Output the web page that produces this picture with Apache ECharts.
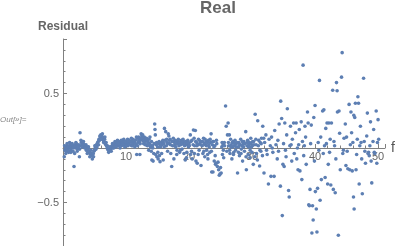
<!DOCTYPE html>
<html><head><meta charset="utf-8">
<script src="https://cdn.jsdelivr.net/npm/echarts@6/dist/echarts.min.js"></script>
<style>html,body{margin:0;padding:0;background:#fff}#c{width:399px;height:246px}</style>
</head><body><div id="c"></div>
<script>
// frequency values (f), main set
var F = [
0.2,0.3,0.4,0.5,0.6,0.7,0.8,0.9,1.0,1.1,1.2,1.3,1.4,1.5,1.6,1.75,1.8,1.9,2.0,2.1,2.2,2.3,2.5,2.6,2.7,2.8,2.9,3.0,3.1,3.2,3.3,3.4,3.5,3.6,3.7,3.8,3.9,4.0,4.1,4.2,4.3,4.4,4.5,4.6,4.7,4.8,4.9,5.0,5.1,5.2,5.3,5.4,5.5,5.6,5.7,5.8,5.9,6.0,6.1,6.2,6.3,6.4,6.5,6.6,6.7,6.8,6.9,7.0,7.1,7.2,7.3,7.4,7.5,7.6,7.7,7.8,7.9,8.0,8.1,8.2,8.3,8.4,8.5,8.6,8.7,8.8,8.9,9.0,9.1,9.2,9.3,9.4,9.5,9.6,9.7,9.8,9.9,10.0,10.1,10.2,10.3,10.4,10.5,
10.7,10.8,10.9,11.0,11.1,11.2,11.3,11.4,11.5,11.6,11.7,11.8,11.9,12.0,12.1,12.2,12.3,12.4,12.5,12.6,12.7,12.8,12.9,13.0,13.1,13.2,13.3,13.4,13.5,13.6,13.7,13.8,13.9,14.0,14.1,14.2,14.3,14.4,14.55,14.6,14.65,14.7,14.8,14.9,15.0,15.1,15.2,15.3,15.4,15.5,15.6,15.7,15.8,15.9,16.0,16.1,16.2,16.3,16.4,16.5,16.6,16.7,16.8,16.9,17.0,17.1,17.25,17.3,17.4,17.5,17.6,17.7,17.8,17.9,18.0,18.1,18.2,18.3,18.4,18.5,18.6,18.7,18.8,18.9,19.0,19.1,19.2,19.3,19.4,19.5,19.6,19.7,19.8,19.9,20.0,20.2,20.3,20.4,20.5,20.7,20.8,20.9,21.0,21.1,21.2,21.3,21.4,21.5,21.6,21.7,21.9,22.0,
22.1,22.2,22.3,22.4,22.5,22.6,22.7,22.8,22.9,23.0,23.1,23.2,23.3,23.4,23.5,23.6,23.7,23.8,23.9,24.0,24.1,24.2,24.3,24.4,24.5,24.6,24.7,24.8,24.9,25.0,25.1,25.2,25.3,25.4,25.5,25.6,25.8,25.9,26.0,26.1,26.2,26.3,26.4,26.5,26.6,26.7,26.8,26.9,27.0,27.1,27.2,27.3,27.4,27.5,27.7,27.8,27.9,28.0,28.1,28.2,28.3,28.4,28.5,28.6,28.7,28.8,29.0,29.1,29.2,29.3,29.4,29.5,29.6,29.7,29.8,29.9,30.0,30.1,30.2,30.3,30.5,30.6,30.7,30.9,31.0,31.2,31.3,31.4,31.5,31.7,31.9,
32.0,32.2,32.3,32.4,32.6,32.7,32.9,33.0,33.1,33.2,33.3,33.5,33.6,33.8,34.0,34.1,34.2,34.3,34.5,34.55,34.7,34.8,34.9,35.0,35.1,35.2,35.3,35.4,35.5,35.6,35.8,35.9,36.0,36.1,36.2,36.3,36.4,36.6,36.7,36.9,37.0,37.1,37.2,37.3,37.4,37.5,37.6,37.8,37.9,38.0,38.1,38.2,38.3,38.4,38.5,38.6,38.8,38.9,39.0,39.1,39.2,39.3,39.4,39.5,39.6,39.7,39.8,39.9,40.0,40.05,40.2,40.3,40.4,40.5,40.6,40.7,40.8,40.9,41.0,41.2,41.3,41.4,41.5,41.6,41.7,41.8,41.9,42.0,42.1,42.2,42.3,42.4,42.5,42.6,42.8,42.9,43.0,43.1,43.2,43.3,43.4,43.5,43.55,43.7,43.8,43.9,44.0,44.2,44.3,44.4,44.5,44.6,44.8,44.9,45.0,45.1,45.2,45.4,45.5,45.6,45.7,45.8,45.9,46.0,46.1,46.15,46.2,46.3,46.4,46.5,46.6,46.7,46.8,46.9,47.0,47.1,47.2,47.3,47.4,47.5,47.7,47.8,47.9,48.0,48.2,48.3,48.4,48.5,48.6,48.7,48.8,48.9,49.0,49.2,49.3,49.4,49.5,49.7,49.8,49.9,50.0,50.1
];
// residual values, main set
var R = [
-0.08,-0.02,0.0,-0.03,0.02,-0.01,0.01,-0.04,0.02,0.0,0.03,-0.02,0.01,0.02,-0.03,-0.17,0.02,0.03,0.0,0.04,0.02,-0.01,0.03,-0.08,0.14,0.02,0.05,0.06,0.03,0.04,0.02,0.03,0.01,0.0,-0.02,0.01,-0.03,-0.01,-0.04,-0.03,-0.05,-0.06,-0.05,-0.07,-0.06,-0.05,-0.03,-0.02,0.0,0.02,0.03,0.01,0.05,0.06,0.08,0.07,0.1,0.12,0.11,0.09,0.1,0.07,0.06,0.08,0.04,0.03,0.02,0.0,-0.01,-0.02,-0.01,-0.02,0.0,-0.01,0.01,0.02,0.0,0.03,0.01,0.04,0.02,0.05,0.03,0.04,0.06,0.02,0.05,0.03,0.06,0.04,0.02,0.05,0.07,0.03,0.05,0.01,0.04,0.06,0.03,0.05,0.02,0.04,0.07,
0.03,0.06,0.02,0.05,0.08,0.04,0.06,0.01,0.07,0.03,-0.06,0.09,0.05,0.1,0.06,-0.06,0.08,0.13,0.11,0.07,0.09,0.04,0.1,0.06,0.08,0.03,0.07,0.02,0.05,-0.02,0.04,0.1,0.01,-0.03,-0.11,0.02,-0.12,-0.05,0.22,0.17,0.12,-0.06,0.03,-0.08,0.01,-0.1,0.04,-0.07,-0.125,0.02,0.05,0.03,0.06,-0.11,0.04,0.18,0.07,0.15,0.02,0.05,-0.03,0.13,0.11,0.04,0.08,-0.05,-0.17,0.06,0.02,0.09,-0.1,0.05,0.07,0.01,0.06,-0.02,0.04,0.08,0.02,-0.04,0.05,0.03,0.07,-0.01,0.04,0.06,-0.05,0.02,-0.11,0.05,-0.09,0.03,0.07,0.01,0.04,0.12,0.06,-0.03,-0.1,0.165,0.09,0.02,0.16,-0.12,0.05,-0.14,0.03,0.08,-0.02,0.04,-0.16,0.06,
0.02,-0.05,0.09,0.04,-0.08,0.03,0.06,-0.02,0.05,-0.1,0.07,0.01,-0.04,0.05,0.13,-0.22,0.03,-0.22,0.06,-0.12,0.02,-0.15,-0.14,0.04,-0.17,-0.13,-0.2,-0.25,-0.24,-0.18,-0.23,0.01,-0.06,0.03,-0.09,0.05,0.385,0.2,-0.03,0.12,0.23,0.02,0.12,-0.05,0.08,0.03,-0.1,0.01,0.06,-0.04,0.02,0.07,-0.02,0.04,-0.23,0.01,0.05,-0.07,0.03,0.08,-0.01,0.02,-0.12,0.04,0.06,-0.03,0.15,-0.2,0.02,0.07,-0.06,0.03,0.05,-0.02,0.09,0.01,-0.04,0.06,-0.15,0.03,0.31,0.08,-0.05,0.25,0.02,-0.165,0.05,-0.03,0.09,0.2,-0.23,
0.05,0.12,-0.02,-0.06,-0.33,0.08,0.02,-0.26,0.1,0.0,-0.04,-0.26,0.16,0.03,-0.1,0.07,-0.03,0.22,-0.35,0.43,0.27,-0.62,-0.15,0.04,-0.17,0.23,-0.02,-0.08,0.12,0.36,-0.39,-0.45,0.02,0.2,0.03,-0.12,0.08,0.23,-0.05,0.14,0.23,-0.1,0.0,-0.2,0.03,0.17,-0.21,0.24,-0.29,0.06,0.76,-0.07,0.02,0.2,0.1,-0.15,0.33,0.23,-0.52,-0.53,-0.38,0.04,0.21,-0.78,-0.53,-0.66,0.28,-0.12,0.39,-0.4,-0.56,-0.77,-0.37,0.05,-0.02,0.62,-0.48,0.1,-0.29,0.34,-0.05,0.35,0.02,-0.27,0.18,0.04,0.23,-0.33,-0.15,0.23,-0.04,0.08,-0.34,0.23,0.53,-0.38,0.06,0.02,-0.41,-0.1,0.6,0.525,0.33,-0.8,0.34,0.135,-0.2,0.65,0.875,-0.05,-0.02,0.09,0.22,-0.16,0.1,-0.03,-0.19,0.4,-0.2,0.03,0.33,0.14,-0.21,0.05,-0.45,0.3,-0.56,0.28,0.41,-0.2,-0.06,0.08,0.47,0.41,-0.33,0.02,0.2,0.05,-0.1,-0.42,0.64,0.06,-0.03,-0.14,0.11,0.32,-0.05,-0.04,-0.07,0.02,0.24,-0.12,-0.32,0.06,0.17,-0.04,-0.05,0.34,-0.14,0.05,0.26,0.08
];
// second row of points in the dense low-f band (f)
var F2 = [
0.25,0.45,0.65,0.85,1.05,1.25,1.45,1.65,1.85,2.05,2.25,2.45,2.65,2.85,3.05,3.25,3.45,3.65,3.85,4.05,4.25,4.45,4.65,4.85,5.05,5.25,5.45,5.65,5.85,6.05,6.25,6.45,6.65,6.85,7.05,7.25,7.45,7.65,7.85,8.05,8.25,8.45,8.65,8.85,9.05,9.25,9.45,9.65,9.85,10.05,10.25,10.45,10.65,10.85,11.05,11.25,11.45,11.65,11.85,12.05,12.25,12.45,12.65,12.85,13.05,13.25,13.45,13.65,13.85,14.05,14.25,14.45,14.85,15.05,15.25,15.45,15.65,15.85,16.05,16.45,16.65,16.85,17.05,17.45,17.65,17.85,18.05,18.25,18.45,18.65,18.85,19.05,19.25,19.45,19.65,19.85,20.05,20.25,20.45,20.65,20.85,21.05,21.25,21.45,21.65,21.85,
22.15,22.35,22.55,22.75,22.95,23.15,23.35,23.55,23.75,23.95,24.15,24.35,25.25,25.45,25.65,26.25,26.45,26.65,26.85,27.05,27.25,27.45,27.65,27.85,28.05,28.25,28.45,28.65,28.85,29.05,29.25,29.45,29.65,29.85,30.05,30.25,30.45,30.65,30.85,31.05,31.25,31.45,31.65,31.85
];
// second row of points (residual)
var R2 = [
0.02,-0.05,0.04,-0.02,0.05,-0.04,0.04,0.0,-0.05,0.05,-0.03,0.01,-0.01,0.07,0.01,0.06,0.0,0.03,-0.05,0.01,-0.08,-0.02,-0.1,-0.08,0.02,-0.01,0.04,0.03,0.11,0.08,0.13,0.05,0.1,0.05,0.02,-0.04,0.01,-0.03,0.04,0.0,0.06,0.01,0.07,0.04,0.0,0.07,0.03,0.08,0.06,0.02,0.08,0.03,0.06,0.09,0.02,0.07,0.04,0.1,0.02,0.07,0.04,0.09,0.12,0.06,0.03,0.09,0.06,0.08,0.03,0.06,0.0,0.04,0.05,-0.04,0.06,0.01,-0.05,0.07,0.01,0.08,0.04,0.07,0.03,0.06,0.02,0.04,-0.06,0.07,0.05,-0.02,0.04,0.08,0.03,0.06,-0.04,0.05,0.02,-0.06,0.07,0.03,-0.05,0.06,0.02,-0.06,0.07,0.03,
0.06,-0.03,0.08,0.02,-0.06,0.03,0.08,-0.03,0.06,0.01,-0.07,0.07,0.05,-0.02,0.02,0.05,-0.02,0.01,0.05,-0.06,0.04,0.01,0.05,-0.04,0.03,-0.05,0.06,0.01,0.04,-0.08,0.05,0.01,-0.09,0.04,0.02,0.06,-0.08,0.03,-0.11,0.07,-0.02,0.04,-0.07,0.09
];
var xTicks = [10, 20, 30, 40, 50];
var yTicks = [-0.5, 0.5];

var pts = F.map(function (f, i) { return [f, R[i]]; })
  .concat(F2.map(function (f, i) { return [f, R2[i]]; }));
var grey = '#808080';
var chart = echarts.init(document.getElementById('c'), null, {renderer: 'canvas'});
chart.setOption({
  animation: false,
  title: {
    text: 'Real', left: 200, top: 0, padding: 0,
    textStyle: {fontFamily: 'Liberation Sans, Arial, sans-serif', fontSize: 17, fontWeight: 'bold', color: '#666666'}
  },
  graphic: [{
    type: 'text', left: 0, top: 116,
    style: {text: 'Out[»]=', font: 'italic 8px "Liberation Sans", Arial, sans-serif', fill: '#888888'}
  }],
  grid: {left: 63, top: 39, width: 322, height: 218, containLabel: false, outerBoundsMode: 'none'},
  xAxis: {
    type: 'value', min: 0, max: 51.1, interval: 10,
    position: 'bottom', offset: -109,
    name: 'f', nameLocation: 'end', nameGap: 6,
    nameTextStyle: {fontFamily: 'Liberation Sans, Arial, sans-serif', fontSize: 14, color: '#555555', verticalAlign: 'middle'},
    axisLine: {onZero: false, lineStyle: {color: grey, width: 1}},
    axisTick: {show: true, inside: true, length: 4, lineStyle: {color: grey}},
    minorTick: {show: true, splitNumber: 5, length: 2.5, lineStyle: {color: grey}},
    splitLine: {show: false},
    axisLabel: {
      margin: 3, fontFamily: 'Liberation Sans, Arial, sans-serif', fontSize: 11, color: '#666666',
      formatter: function (v) { return xTicks.indexOf(v) >= 0 ? String(v) : ''; }
    }
  },
  yAxis: {
    type: 'value', min: -1, max: 1, interval: 0.5,
    name: 'Residual', nameLocation: 'end', nameGap: 6,
    nameTextStyle: {fontFamily: 'Liberation Sans, Arial, sans-serif', fontSize: 12, fontWeight: 'bold', color: '#666666', align: 'center'},
    axisLine: {show: true, onZero: false, lineStyle: {color: grey, width: 1}},
    axisTick: {show: true, inside: true, length: 4, lineStyle: {color: grey}},
    minorTick: {show: true, splitNumber: 5, length: 2.5, lineStyle: {color: grey}},
    splitLine: {show: false},
    axisLabel: {
      margin: 4, fontFamily: 'Liberation Sans, Arial, sans-serif', fontSize: 11, color: '#666666',
      formatter: function (v) {
        var hit = yTicks.filter(function (t) { return Math.abs(t - v) < 1e-9; });
        return hit.length ? String(v).replace('-', '\u2212') : '';
      }
    }
  },
  series: [{
    type: 'scatter', data: pts, symbolSize: 3.6,
    itemStyle: {color: '#5d7fb3', opacity: 1}
  }]
});
</script></body></html>
